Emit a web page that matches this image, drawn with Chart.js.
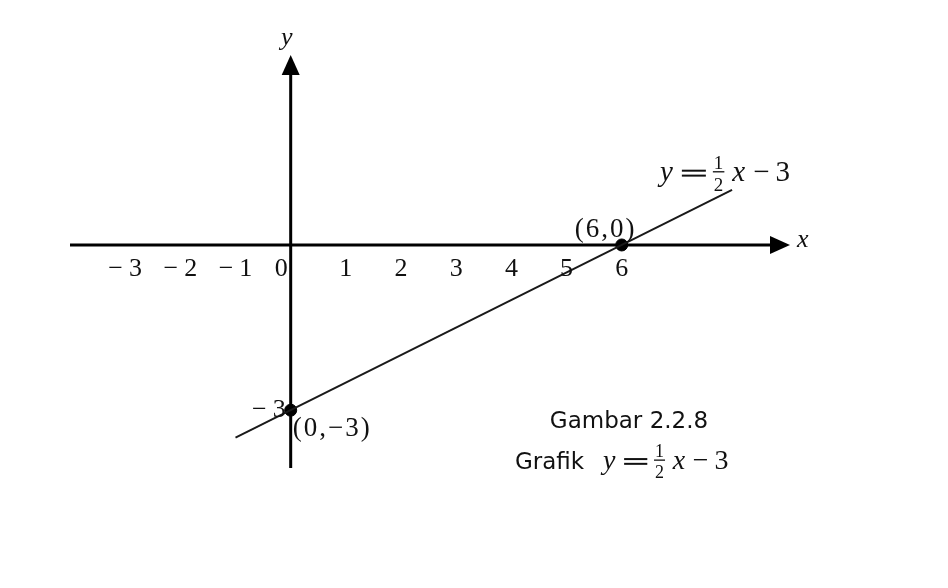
<!DOCTYPE html>
<html>
<head>
<meta charset="utf-8">
<script src="https://cdn.jsdelivr.net/npm/chart.js@4/dist/chart.umd.min.js"></script>
<style>
  body { margin: 0; background: #fff; }
  #wrap { width: 948px; height: 588px; }
</style>
</head>
<body>
<div id="wrap"><canvas id="graph" width="948" height="588"></canvas></div>
<script>
// line y = 1/2 x - 3, drawn between these two points
const lineX = [-1, 8]
const lineY = [-3.5, 1]
// marked points
const pointX = [6, 0]
const pointY = [0, -3]
const pointLabels = ['(6,0)', '(0,\u22123)']
// tick labels on the axes
const xTickValues = [-3, -2, -1, 0, 1, 2, 3, 4, 5, 6]
const xTickLabels = ['\u22123', '\u22122', '\u22121', '0', '1', '2', '3', '4', '5', '6']
const yTickValues = [-3]
const yTickLabels = ['\u22123']

const serif = '"Liberation Serif", "DejaVu Serif", serif'
const sans = '"DejaVu Sans", "Noto Sans", sans-serif'

// tick text with a gap after the minus sign, like in the book
function drawTick(ctx, text, x, y, align) {
    ctx.textBaseline = 'middle'
    const gap = 6
    let w = ctx.measureText(text).width
    const neg = text[0] === '\u2212'
    if (neg) w += gap
    let left = align === 'center' ? x - w / 2 : x - w
    ctx.textAlign = 'left'
    if (neg) {
        ctx.fillText('\u2212', left, y)
        left += ctx.measureText('\u2212').width + gap
        ctx.fillText(text.slice(1), left, y)
    } else {
        ctx.fillText(text, left, y)
    }
}

// draws y = 1/2 x - 3 starting at x, baseline y
function drawEquation(ctx, x, y, size) {
    const k = size / 29
    ctx.textAlign = 'left'
    ctx.textBaseline = 'alphabetic'
    ctx.font = 'italic ' + size + 'px ' + serif
    ctx.fillText('y', x, y)
    x += ctx.measureText('y').width + 9 * k
    // wide equals sign
    const eqW = 24 * k
    ctx.fillRect(x, y - size * 0.39, eqW, 2)
    ctx.fillRect(x, y - size * 0.22, eqW, 2)
    x += eqW + 8 * k
    const small = Math.round(size * 0.64)
    ctx.font = small + 'px ' + serif
    const fw = ctx.measureText('2').width
    ctx.fillText('1', x, y - size * 0.42)
    ctx.fillText('2', x, y + size * 0.33)
    ctx.fillRect(x - 1, y - size * 0.34, fw + 2, 1.3)
    x += fw + 9 * k
    ctx.font = 'italic ' + size + 'px ' + serif
    ctx.fillText('x', x, y)
    x += ctx.measureText('x').width + 8 * k
    ctx.font = size + 'px ' + serif
    ctx.fillText('\u2212', x, y)
    x += ctx.measureText('\u2212').width + 6 * k
    ctx.fillText('3', x, y)
}

const axesPlugin = {
    id: 'axes',
    beforeDatasetsDraw(chart) {
        const ctx = chart.ctx
        const xs = chart.scales.x, ys = chart.scales.y
        const a = chart.chartArea
        const x0 = xs.getPixelForValue(0), y0 = ys.getPixelForValue(0)
        ctx.save()
        ctx.strokeStyle = '#000'
        ctx.fillStyle = '#000'
        ctx.lineWidth = 3
        ctx.beginPath()
        ctx.moveTo(a.left, y0)
        ctx.lineTo(a.right - 15, y0)
        ctx.moveTo(x0, a.bottom)
        ctx.lineTo(x0, a.top + 15)
        ctx.stroke()
        // arrow heads
        ctx.beginPath()
        ctx.moveTo(a.right, y0)
        ctx.lineTo(a.right - 20, y0 - 9)
        ctx.lineTo(a.right - 20, y0 + 9)
        ctx.closePath()
        ctx.fill()
        ctx.beginPath()
        ctx.moveTo(x0, a.top)
        ctx.lineTo(x0 - 9, a.top + 20)
        ctx.lineTo(x0 + 9, a.top + 20)
        ctx.closePath()
        ctx.fill()
        ctx.restore()
    },
    afterDatasetsDraw(chart) {
        const ctx = chart.ctx
        const xs = chart.scales.x, ys = chart.scales.y
        const a = chart.chartArea
        const x0 = xs.getPixelForValue(0), y0 = ys.getPixelForValue(0)
        ctx.save()
        ctx.fillStyle = '#111'
        ctx.font = '26px ' + serif
        xTickValues.forEach((v, i) => {
            const px = xs.getPixelForValue(v)
            if (v === 0) drawTick(ctx, xTickLabels[i], px - 3, y0 + 24, 'right')
            else drawTick(ctx, xTickLabels[i], px, y0 + 24, 'center')
        })
        yTickValues.forEach((v, i) => {
            drawTick(ctx, yTickLabels[i], x0 - 5, ys.getPixelForValue(v), 'right')
        })
        // axis names
        ctx.font = 'italic 26px ' + serif
        ctx.textAlign = 'center'
        ctx.textBaseline = 'alphabetic'
        ctx.fillText('y', x0 - 4, a.top - 10)
        ctx.textAlign = 'left'
        ctx.fillText('x', a.right + 7, y0 + 2)
        // point labels
        ctx.font = '27px ' + serif
        ctx.letterSpacing = '2px'
        ctx.textAlign = 'center'
        ctx.fillText(pointLabels[0], xs.getPixelForValue(pointX[0]) - 16, ys.getPixelForValue(pointY[0]) - 8)
        ctx.textAlign = 'left'
        ctx.textBaseline = 'top'
        ctx.fillText(pointLabels[1], xs.getPixelForValue(pointX[1]) + 2, ys.getPixelForValue(pointY[1]) + 5)
        ctx.letterSpacing = '0px'
        // equation at the end of the line
        drawEquation(ctx, 660, 181, 29)
        // caption
        ctx.font = '23px ' + sans
        ctx.textAlign = 'center'
        ctx.textBaseline = 'alphabetic'
        ctx.fillText('Gambar 2.2.8', 629, 428)
        ctx.textAlign = 'left'
        ctx.fillText('Grafik', 515, 469)
        drawEquation(ctx, 603, 469, 28)
        ctx.restore()
    }
}

new Chart(document.getElementById('graph'), {
    type: 'scatter',
    data: {
        datasets: [{
            data: lineX.map((x, i) => ({ x: x, y: lineY[i] })),
            showLine: true,
            borderColor: '#1a1a1a',
            borderWidth: 2,
            pointRadius: 0
        }, {
            data: pointX.map((x, i) => ({ x: x, y: pointY[i] })),
            backgroundColor: '#000',
            borderColor: '#000',
            pointRadius: 6
        }]
    },
    options: {
        responsive: false,
        animation: false,
        layout: { padding: { left: 70, right: 158, top: 55, bottom: 120 } },
        scales: {
            x: { type: 'linear', min: -4, max: 9.05, display: false },
            y: { type: 'linear', min: -4.05, max: 3.45, display: false }
        },
        plugins: {
            legend: { display: false },
            tooltip: { enabled: false }
        }
    },
    plugins: [axesPlugin]
})
</script>
</body>
</html>
